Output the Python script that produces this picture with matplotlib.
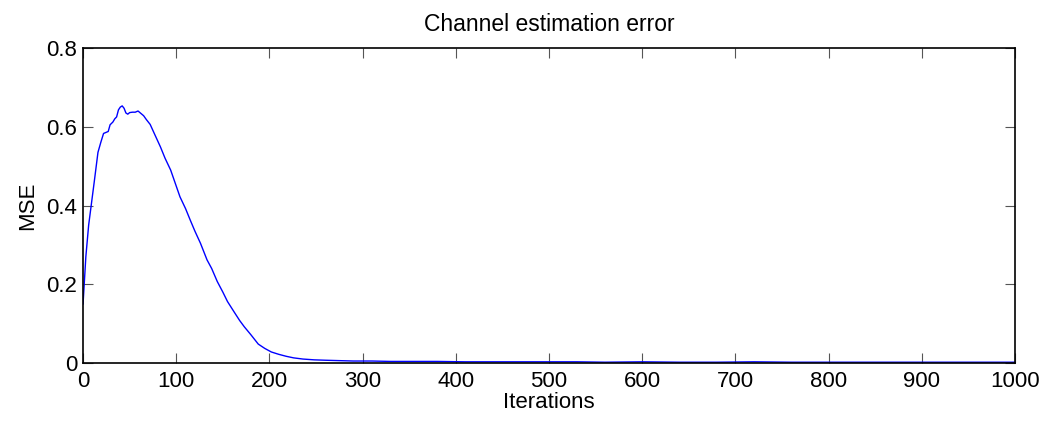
import matplotlib
matplotlib.use('Agg')
from matplotlib import pyplot as plt

plt.rcParams['font.family'] = ['Liberation Sans', 'DejaVu Sans']

# iteration index and MSE
iters = [0, 3, 6, 9, 12, 16, 19, 22, 25, 27, 29, 32, 34, 36, 38, 40, 42, 44, 46,
         48, 50, 53, 56, 59, 62, 65, 68, 72, 77, 83, 88, 94, 99, 104, 110, 115,
         120, 126, 133, 138, 144, 150, 155, 162, 168, 173, 180, 188, 195, 202,
         210, 218, 226, 236, 248, 260, 275, 290, 310, 330, 355, 380, 410, 440,
         470, 500, 530, 560, 600, 640, 680, 720, 760, 800, 840, 880, 920, 960, 1000]
mse = [0.150, 0.270, 0.350, 0.405, 0.460, 0.535, 0.560, 0.583, 0.586, 0.588,
       0.605, 0.612, 0.620, 0.625, 0.643, 0.650, 0.653, 0.647, 0.635, 0.632,
       0.636, 0.637, 0.637, 0.640, 0.634, 0.628, 0.618, 0.606, 0.580, 0.549,
       0.520, 0.490, 0.456, 0.422, 0.392, 0.363, 0.335, 0.304, 0.262, 0.240,
       0.207, 0.180, 0.156, 0.130, 0.108, 0.092, 0.072, 0.048, 0.037, 0.028,
       0.022, 0.017, 0.013, 0.010, 0.008, 0.007, 0.006, 0.005, 0.005, 0.004,
       0.004, 0.004, 0.003, 0.003, 0.003, 0.003, 0.003, 0.002, 0.003, 0.002,
       0.002, 0.003, 0.002, 0.002, 0.002, 0.002, 0.002, 0.002, 0.002]

fig = plt.figure(figsize=(10.46, 4.26), dpi=100)
ax = fig.add_axes([0.0794, 0.1479, 0.8910, 0.7394])
ax.plot(iters, mse, color='#0000ff', linewidth=1.0)

ax.set_xlim(0, 1000)
ax.set_ylim(0, 0.8)
ax.set_xticks(range(0, 1001, 100))
ax.set_yticks([0, 0.2, 0.4, 0.6, 0.8])
ax.set_yticklabels(['0', '0.2', '0.4', '0.6', '0.8'])
ax.tick_params(direction='in', length=7, width=0.8, top=True, right=True,
               labelsize=16, color='#555555')
ax.tick_params(axis='x', pad=6)
ax.tick_params(axis='y', pad=4)
for s in ax.spines.values():
    s.set_linewidth(1.2)

ax.set_title('Channel estimation error', fontsize=16.5, pad=12)
ax.set_xlabel('Iterations', fontsize=16, labelpad=0)
ax.set_ylabel('MSE', fontsize=16, labelpad=6)

fig.savefig('out.png', dpi=100)
